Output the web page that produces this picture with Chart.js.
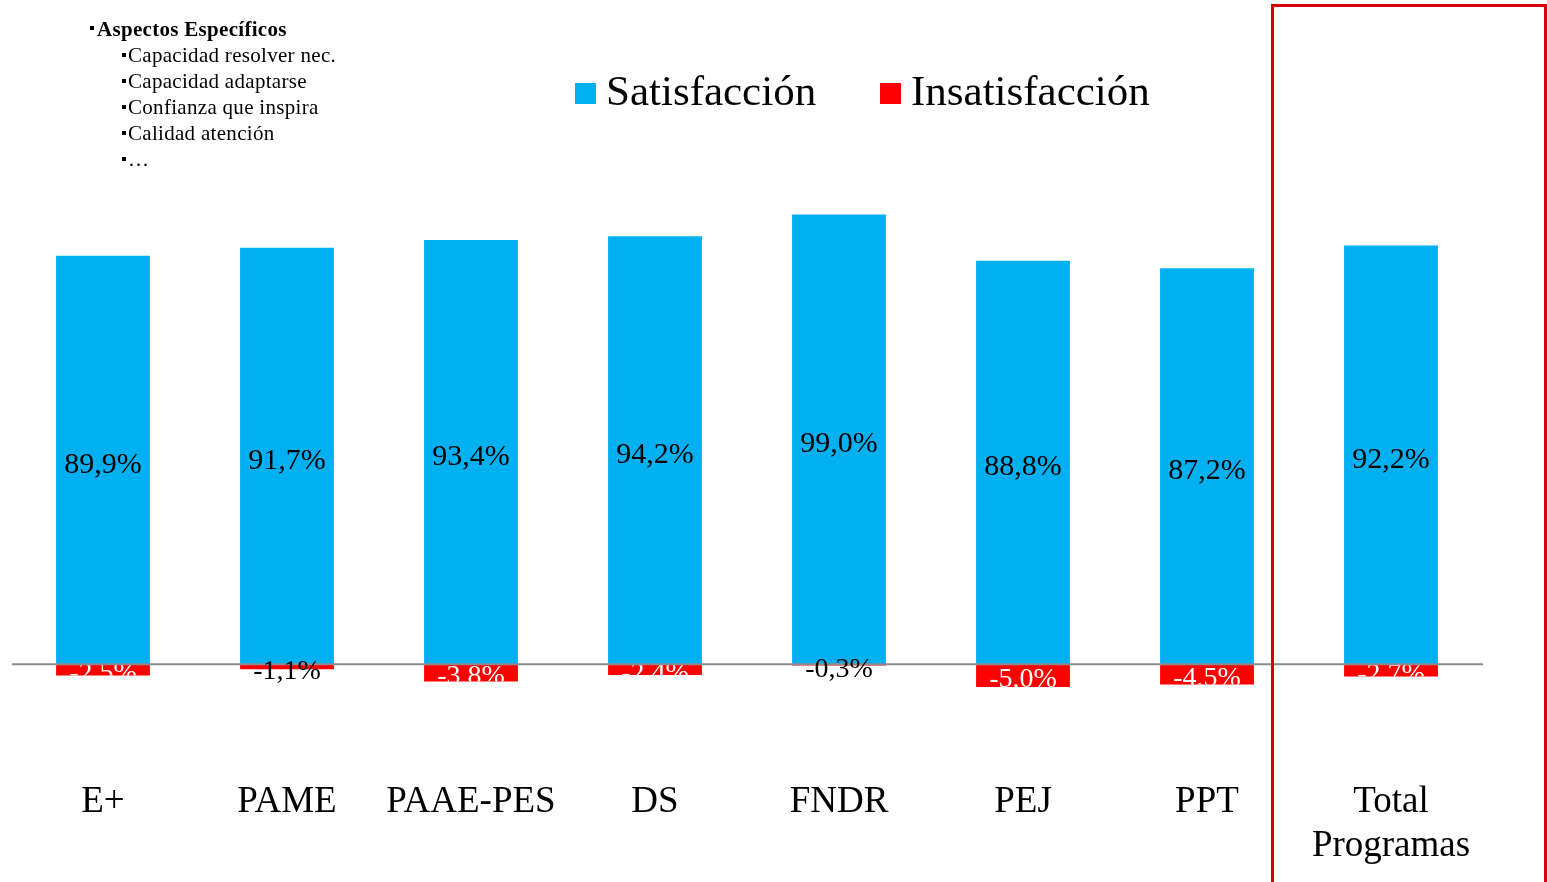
<!DOCTYPE html>
<html>
<head>
<meta charset="utf-8">
<script src="https://cdn.jsdelivr.net/npm/chart.js@4.4.0/dist/chart.umd.min.js"></script>
<style>
  html, body { margin: 0; padding: 0; background: #ffffff; overflow: hidden; }
  #wrap { width: 1547px; height: 882px; position: relative; }
</style>
</head>
<body>
<div id="wrap"><canvas id="c" width="1547" height="882"></canvas></div>
<script>
// ---- data ----
const categories = ['E+', 'PAME', 'PAAE-PES', 'DS', 'FNDR', 'PEJ', 'PPT', ['Total', 'Programas']];
const satisfaccion = [89.9, 91.7, 93.4, 94.2, 99.0, 88.8, 87.2, 92.2];
const insatisfaccion = [-2.5, -1.1, -3.8, -2.4, -0.3, -5.0, -4.5, -2.7];
const seriesNames = ['Satisfacción', 'Insatisfacción'];
const aspectosTitulo = 'Aspectos Específicos';
const aspectosItems = ['Capacidad resolver nec.', 'Capacidad adaptarse', 'Confianza que inspira', 'Calidad atención', '…'];

const SERIF = '"Liberation Serif", "Times New Roman", serif';
const BLUE = '#00B0F0';
const RED = '#FF0000';

function fmt(v) { return v.toFixed(1).replace('.', ',') + '%'; }

const decorPlugin = {
  id: 'decor',
  afterDatasetsDraw(chart) {
    const ctx = chart.ctx;
    const ca = chart.chartArea;
    const y = chart.scales.y;
    const y0 = y.getPixelForValue(0);
    // zero line
    ctx.save();
    ctx.strokeStyle = '#8c8c8c';
    ctx.lineWidth = 2;
    ctx.beginPath();
    ctx.moveTo(ca.left + 1, y0);
    ctx.lineTo(ca.right, y0);
    ctx.stroke();
    ctx.restore();

    // data labels
    chart.data.datasets.forEach((ds, di) => {
      const meta = chart.getDatasetMeta(di);
      meta.data.forEach((bar, i) => {
        const v = ds.data[i];
        const top = Math.min(bar.y, bar.base);
        const bot = Math.max(bar.y, bar.base);
        const cx = bar.x;
        const cy = (top + bot) / 2;
        ctx.save();
        ctx.textAlign = 'center';
        ctx.textBaseline = 'middle';
        if (v >= 0) {
          ctx.font = '30px ' + SERIF;
          ctx.fillStyle = '#000000';
          ctx.fillText(fmt(v), cx, cy + 5);
        } else {
          ctx.font = '28px ' + SERIF;
          if (Math.abs(v) < 2) {
            ctx.fillStyle = '#000000';
            ctx.fillText(fmt(v), cx, cy + 5);
          } else {
            ctx.beginPath();
            ctx.rect(bar.x - bar.width / 2, top + 1, bar.width, bot - top - 1);
            ctx.clip();
            ctx.fillStyle = '#ffffff';
            ctx.fillText(fmt(v), cx, cy + 4);
          }
        }
        ctx.restore();
      });
    });
  },
  afterDraw(chart) {
    const ctx = chart.ctx;
    // legend
    ctx.save();
    ctx.font = '43px ' + SERIF;
    ctx.textBaseline = 'middle';
    ctx.textAlign = 'left';
    const legendItems = [
      { x: 575, color: BLUE, text: seriesNames[0] },
      { x: 880, color: RED, text: seriesNames[1] }
    ];
    legendItems.forEach(it => {
      ctx.fillStyle = it.color;
      ctx.fillRect(it.x, 83, 21, 21);
      ctx.fillStyle = '#000000';
      ctx.fillText(it.text, it.x + 31, 94);
    });
    ctx.restore();

    // aspectos text
    ctx.save();
    ctx.fillStyle = '#000000';
    ctx.textBaseline = 'alphabetic';
    ctx.textAlign = 'left';
    ctx.letterSpacing = '0.3px';
    ctx.fillRect(90, 26, 4, 4);
    ctx.font = 'bold 21px ' + SERIF;
    ctx.fillText(aspectosTitulo, 97, 36);
    ctx.font = '21px ' + SERIF;
    aspectosItems.forEach((t, i) => {
      const by = 62 + i * 26;
      ctx.fillRect(122, by - 9, 4, 4);
      ctx.fillText(t, 128, by);
    });
    ctx.restore();

    // red highlight box
    ctx.save();
    ctx.strokeStyle = '#D9000D';
    ctx.lineWidth = 3;
    ctx.beginPath();
    ctx.moveTo(1272.5, 900);
    ctx.lineTo(1272.5, 5.5);
    ctx.lineTo(1545.5, 5.5);
    ctx.lineTo(1545.5, 900);
    ctx.stroke();
    ctx.restore();
  }
};

new Chart(document.getElementById('c'), {
  type: 'bar',
  data: {
    labels: categories,
    datasets: [
      { label: seriesNames[0], data: satisfaccion, backgroundColor: BLUE, borderWidth: 0,
        categoryPercentage: 1.0, barPercentage: 0.51 },
      { label: seriesNames[1], data: insatisfaccion, backgroundColor: RED, borderWidth: 0,
        categoryPercentage: 1.0, barPercentage: 0.51 }
    ]
  },
  options: {
    responsive: false,
    animation: false,
    devicePixelRatio: 1,
    layout: { padding: { left: 11, right: 64, top: 210, bottom: 0 } },
    plugins: {
      legend: { display: false },
      tooltip: { enabled: false }
    },
    scales: {
      x: {
        stacked: true,
        grid: { display: false, drawTicks: false },
        border: { display: false },
        ticks: {
          color: '#000000',
          font: { family: SERIF, size: 37, lineHeight: 1.17 },
          padding: 26,
          maxRotation: 0,
          autoSkip: false
        },
        afterFit(scale) { scale.height = 127; }
      },
      y: {
        stacked: true,
        display: false,
        min: -20,
        max: 100
      }
    }
  },
  plugins: [decorPlugin]
});
</script>
</body>
</html>
